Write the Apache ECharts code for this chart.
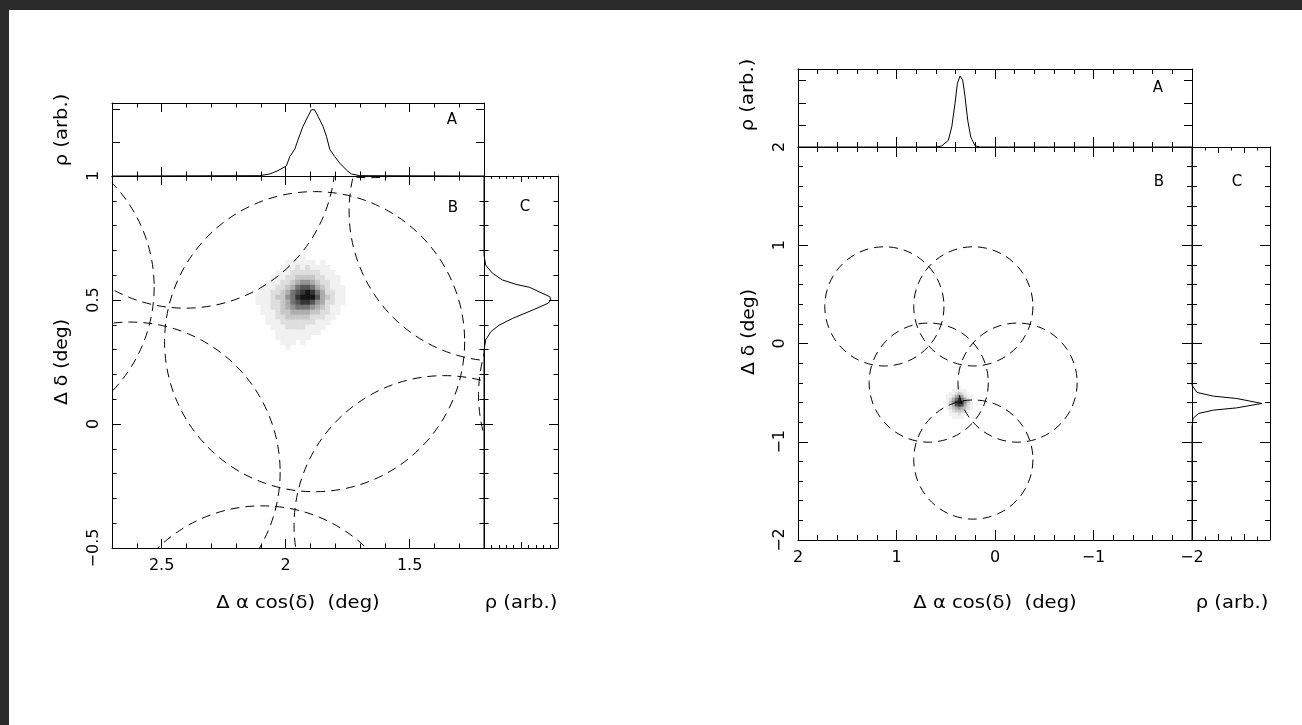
<!DOCTYPE html>
<html>
<head>
<meta charset="utf-8">
<script src="https://cdn.jsdelivr.net/npm/echarts@6/dist/echarts.min.js"></script>
<style>
  html, body { margin: 0; padding: 0; background: #fff; }
  #chart { width: 1302px; height: 725px; }
</style>
</head>
<body>
<div id="chart"></div>
<script>
// ---------- Left field (offsets in degrees) ----------
// Centres of the dashed field-of-view circles
const leftCircleX = [1.883, 2.405, 1.139, 1.361, 2.627, 2.095, 3.135, 1.661, 0.617];
const leftCircleY = [0.332, 1.072, 0.858, -0.410, -0.194, -0.935, 0.552, 1.598, 0.118];
const leftCircleRadius = 0.605;

// Labelled tick values on the RA axis
const leftRaTicks = [1.5, 2, 2.5];

// Marginal density along RA (panel A)
const leftTopX   = [2.70, 2.104, 2.064, 2.031, 1.997, 1.983, 1.963, 1.950, 1.930, 1.910, 1.896, 1.883, 1.869, 1.849, 1.835, 1.822, 1.802, 1.781, 1.755, 1.735, 1.701, 1.20];
const leftTopRho = [0, 0.01, 0.06, 0.16, 0.30, 0.58, 0.80, 1.08, 1.48, 1.78, 1.98, 1.98, 1.78, 1.48, 1.18, 0.80, 0.58, 0.38, 0.18, 0.06, 0.01, 0];

// Marginal density along Dec (panel C)
const leftSideDec = [1.0, 0.681, 0.641, 0.608, 0.581, 0.563, 0.551, 0.513, 0.500, 0.487, 0.460, 0.426, 0.399, 0.372, 0.339, 0.298, -0.5];
const leftSideRho = [0, 0, 0.023, 0.114, 0.247, 0.434, 0.616, 0.890, 0.904, 0.867, 0.662, 0.388, 0.205, 0.092, 0.023, 0, 0];

// 2-D density (0..9), rows from north to south, columns from east (high RA offset) to west
const leftDensityX0 = 2.15;
const leftDensityY0 = 0.67;
const leftDensityStep = 0.02;
const leftDensity = [
  [0,0,0,0,0,0,0,0,0,0,0,1,0,0,0,0,0,0,0,0,0,0],
  [0,0,0,0,0,0,0,0,1,1,1,1,1,1,0,1,0,0,0,0,0,0],
  [0,0,0,0,0,0,0,1,1,1,2,1,2,1,1,1,1,0,0,0,0,0],
  [0,0,0,0,0,0,1,1,1,2,2,2,2,2,2,1,1,1,0,0,0,0],
  [0,0,0,0,0,1,1,1,2,2,3,3,3,3,2,2,1,1,1,0,0,0],
  [0,0,0,0,1,1,1,2,2,3,4,5,5,4,3,2,2,1,1,0,0,0],
  [0,0,0,1,1,1,2,2,3,4,6,7,7,6,4,3,2,1,1,1,0,0],
  [0,0,0,1,1,2,2,3,4,6,7,8,9,8,6,4,2,2,1,1,0,0],
  [0,0,1,1,1,2,3,3,5,6,8,9,9,9,7,4,3,2,1,1,0,0],
  [0,0,1,1,1,2,2,3,4,6,7,8,8,7,5,4,2,2,1,1,0,0],
  [0,0,0,1,1,2,2,3,4,5,6,6,6,5,4,3,2,1,1,0,0,0],
  [0,0,0,1,1,1,2,3,3,4,4,4,4,3,3,2,2,1,1,0,0,0],
  [0,0,0,0,1,1,2,2,3,3,3,3,3,2,2,2,1,1,0,0,0,0],
  [0,0,0,0,1,1,1,2,2,2,2,2,2,2,1,1,1,0,0,0,0,0],
  [0,0,0,0,0,1,1,1,2,2,2,2,1,1,1,1,0,0,0,0,0,0],
  [0,0,0,0,0,0,1,1,1,1,1,1,1,1,1,0,0,0,0,0,0,0],
  [0,0,0,0,0,0,1,1,1,1,1,1,1,0,0,0,0,0,0,0,0,0],
  [0,0,0,0,0,0,0,1,1,1,0,1,0,0,0,0,0,0,0,0,0,0],
  [0,0,0,0,0,0,0,0,1,0,0,0,0,0,0,0,0,0,0,0,0,0]
];

// ---------- Right field ----------
const rightCircleX = [1.123, 0.220, 0.673, -0.229, 0.220];
const rightCircleY = [0.378, 0.378, -0.398, -0.398, -1.181];
const rightCircleRadius = 0.605;

const rightTopX   = [2, 0.60, 0.541, 0.474, 0.439, 0.406, 0.382, 0.355, 0.328, 0.304, 0.277, 0.246, 0.202, 0.15, -2];
const rightTopRho = [0, 0, 0.05, 0.30, 0.91, 1.97, 2.88, 3.21, 3.03, 2.27, 1.21, 0.45, 0.05, 0, 0];

const rightSideDec = [2, -0.424, -0.498, -0.536, -0.560, -0.610, -0.655, -0.678, -0.712, -0.763, -0.848, -2];
const rightSideRho = [0, 0, 0.067, 0.290, 0.604, 0.939, 0.604, 0.290, 0.088, 0.014, 0, 0];

const rightDensityX0 = 0.51;
const rightDensityY0 = -0.45;
const rightDensityStep = 0.03;
const rightDensity = [
  [0,0,0,0,0,1,0,0,0,0,0],
  [0,0,0,1,1,1,1,1,0,0,0],
  [0,0,1,1,2,3,2,1,1,0,0],
  [0,1,1,2,4,5,4,2,1,1,0],
  [0,1,2,4,6,8,6,4,2,1,0],
  [1,1,3,5,8,9,8,5,3,1,0],
  [0,1,2,4,7,8,7,4,2,1,0],
  [0,1,2,3,4,5,4,3,2,1,0],
  [0,0,1,2,3,3,3,2,1,0,0],
  [0,0,1,1,1,2,1,1,0,0,0],
  [0,0,0,1,1,1,1,0,0,0,0]
];

// ---------- helpers ----------
const FONT = '"DejaVu Sans", "Liberation Sans", sans-serif';
const INK = '#000';
const minusSign = v => String(v).replace('-', '\u2212');
const zip = (a, b) => a.map((v, i) => [v, b[i]]);

function shade(v) {
  const g = Math.round(255 - 235 * Math.pow(v / 9, 1.3));
  return 'rgb(' + g + ',' + g + ',' + g + ')';
}

function densityData(rows, x0, y0, step) {
  const out = [];
  rows.forEach((row, r) => row.forEach((v, c) => {
    if (v > 0) out.push([x0 - c * step, y0 - r * step, v]);
  }));
  return out;
}

function cellRenderer(step) {
  return function (params, api) {
    const c = api.coord([api.value(0), api.value(1)]);
    const s = api.size([step, step]);
    return {
      type: 'rect',
      shape: { x: c[0] - s[0] / 2 - 0.3, y: c[1] - s[1] / 2 - 0.3, width: s[0] + 0.6, height: s[1] + 0.6 },
      style: { fill: shade(api.value(2)) }
    };
  };
}

function ringRenderer(radius) {
  return function (params, api) {
    const c = api.coord([api.value(0), api.value(1)]);
    const r = api.size([radius * 2, 0])[0] / 2;
    return {
      type: 'circle',
      shape: { cx: c[0], cy: c[1], r: r },
      style: { fill: 'none', stroke: INK, lineWidth: 1, lineDash: [9, 6] }
    };
  };
}

const xAxes = [];
const yAxes = [];

function axis(list, grid, position, o) {
  const ax = {
    type: 'value', gridIndex: grid, position: position, offset: 0,
    min: o.min, max: o.max, inverse: !!o.inverse,
    axisLine: { show: o.line !== false, onZero: false, lineStyle: { color: INK, width: 1 } },
    axisTick: { show: true, inside: true, length: o.tickLen, lineStyle: { color: INK, width: 1 } },
    minorTick: { show: !!o.minor, splitNumber: o.minor || 5, length: o.minorLen || 4, lineStyle: { color: INK, width: 1 } },
    splitLine: { show: false },
    minorSplitLine: { show: false },
    axisLabel: { show: false },
    silent: true
  };
  if (o.interval !== undefined) ax.interval = o.interval;
  if (o.ticks) ax.axisTick.customValues = o.ticks;
  if (o.labels) {
    ax.axisLabel = {
      show: true, margin: 10, rotate: o.rotate || 0, color: INK,
      fontFamily: FONT, fontSize: 16,
      showMinLabel: true, showMaxLabel: true,
      formatter: minusSign
    };
    if (Array.isArray(o.labels)) ax.axisLabel.customValues = o.labels;
  }
  list.push(ax);
  return list.length - 1;
}

// ---------- grids ----------
const grids = [
  { left: 112, top: 103, width: 372, height: 73 },   // 0 left A
  { left: 112, top: 176, width: 372, height: 372 },  // 1 left B
  { left: 484, top: 176, width: 74,  height: 372 },  // 2 left C
  { left: 798, top: 69,  width: 394, height: 78 },   // 3 right A
  { left: 798, top: 147, width: 394, height: 393 },  // 4 right B
  { left: 1192, top: 147, width: 78, height: 393 }   // 5 right C
].map(g => Object.assign({ containLabel: false, outerBoundsMode: 'none' }, g));

// Left RA axes (panels A and B share them)
const leftRa = { min: 1.2, max: 2.7, inverse: true };
function leftRaPair(grid, pos, withLabels) {
  const minorIdx = axis(xAxes, grid, pos, Object.assign({ interval: 0.1, tickLen: 4.5 }, leftRa));
  axis(xAxes, grid, pos, Object.assign({ line: false, ticks: leftRaTicks, tickLen: 9, labels: withLabels ? leftRaTicks : null }, leftRa));
  return minorIdx;
}
const xLA = leftRaPair(0, 'bottom', false);
leftRaPair(0, 'top', false);
const xLB = leftRaPair(1, 'bottom', true);
leftRaPair(1, 'top', false);
const xLC = axis(xAxes, 2, 'bottom', { min: 0, max: 1, interval: 0.5, tickLen: 6, minor: 5, minorLen: 3 });
axis(xAxes, 2, 'top', { min: 0, max: 1, interval: 0.5, tickLen: 6, minor: 5, minorLen: 3 });

const leftDec = { min: -0.5, max: 1, interval: 0.5, tickLen: 9, minor: 5, minorLen: 4.5 };
const yLA = axis(yAxes, 0, 'left', { min: 0, max: 2.18, interval: 1, tickLen: 8 });
axis(yAxes, 0, 'right', { min: 0, max: 2.18, interval: 1, tickLen: 8 });
const yLB = axis(yAxes, 1, 'left', Object.assign({ labels: true, rotate: 90 }, leftDec));
axis(yAxes, 1, 'right', leftDec);
const yLC = axis(yAxes, 2, 'left', leftDec);
axis(yAxes, 2, 'right', leftDec);

// Right axes
const rightRa = { min: -2, max: 2, inverse: true, interval: 1, tickLen: 10, minor: 5, minorLen: 5 };
const xRA = axis(xAxes, 3, 'bottom', rightRa);
axis(xAxes, 3, 'top', rightRa);
const xRB = axis(xAxes, 4, 'bottom', Object.assign({ labels: true }, rightRa));
axis(xAxes, 4, 'top', rightRa);
const rightRho = { min: 0, max: 1.05, interval: 0.35, tickLen: 6, minor: 2, minorLen: 3.5 };
const xRC = axis(xAxes, 5, 'bottom', rightRho);
axis(xAxes, 5, 'top', rightRho);

const rightDec = { min: -2, max: 2, interval: 1, tickLen: 10, minor: 5, minorLen: 5 };
const yRA = axis(yAxes, 3, 'left', { min: 0, max: 3.53, interval: 1, tickLen: 8 });
axis(yAxes, 3, 'right', { min: 0, max: 3.53, interval: 1, tickLen: 8 });
const yRB = axis(yAxes, 4, 'left', Object.assign({ labels: true, rotate: 90 }, rightDec));
axis(yAxes, 4, 'right', rightDec);
const yRC = axis(yAxes, 5, 'left', rightDec);
axis(yAxes, 5, 'right', rightDec);

// ---------- series ----------
const profileLine = { color: INK, width: 1 };
const series = [
  { type: 'custom', name: 'left density', xAxisIndex: xLB, yAxisIndex: yLB, clip: true, z: 1,
    renderItem: cellRenderer(leftDensityStep),
    data: densityData(leftDensity, leftDensityX0, leftDensityY0, leftDensityStep) },
  { type: 'custom', name: 'left fields', xAxisIndex: xLB, yAxisIndex: yLB, clip: true, z: 3,
    renderItem: ringRenderer(leftCircleRadius), data: zip(leftCircleX, leftCircleY) },
  { type: 'line', name: 'left RA profile', xAxisIndex: xLA, yAxisIndex: yLA, symbol: 'none',
    lineStyle: profileLine, clip: true, data: zip(leftTopX, leftTopRho) },
  { type: 'line', name: 'left Dec profile', xAxisIndex: xLC, yAxisIndex: yLC, symbol: 'none',
    lineStyle: profileLine, clip: true, data: zip(leftSideRho, leftSideDec) },

  { type: 'custom', name: 'right density', xAxisIndex: xRB, yAxisIndex: yRB, clip: true, z: 1,
    renderItem: cellRenderer(rightDensityStep),
    data: densityData(rightDensity, rightDensityX0, rightDensityY0, rightDensityStep) },
  { type: 'custom', name: 'right fields', xAxisIndex: xRB, yAxisIndex: yRB, clip: true, z: 3,
    renderItem: ringRenderer(rightCircleRadius), data: zip(rightCircleX, rightCircleY) },
  { type: 'line', name: 'right RA profile', xAxisIndex: xRA, yAxisIndex: yRA, symbol: 'none',
    lineStyle: profileLine, clip: true, data: zip(rightTopX, rightTopRho) },
  { type: 'line', name: 'right Dec profile', xAxisIndex: xRC, yAxisIndex: yRC, symbol: 'none',
    lineStyle: profileLine, clip: true, data: zip(rightSideRho, rightSideDec) }
];

// ---------- titles and frame ----------
function text(str, x, y, size, opts) {
  opts = opts || {};
  return {
    type: 'text', x: x, y: y, z: 20, silent: true,
    rotation: opts.vertical ? Math.PI / 2 : 0,
    scaleX: opts.stretch || 1,
    style: { text: str, fill: INK, font: size + 'px ' + FONT, align: 'center', verticalAlign: 'middle' }
  };
}

const graphic = [
  { type: 'rect', z: 0, silent: true, shape: { x: 0, y: 0, width: 1302, height: 10 }, style: { fill: '#2b2b2b' } },
  { type: 'rect', z: 0, silent: true, shape: { x: 0, y: 0, width: 9, height: 725 }, style: { fill: '#2b2b2b' } },

  text('\u03c1 (arb.)', 63, 130, 17, { vertical: true, stretch: 1.15 }),
  text('\u0394 \u03b4 (deg)', 63, 362, 17, { vertical: true, stretch: 1.1 }),
  text('\u0394 \u03b1 cos(\u03b4)  (deg)', 298, 604, 17, { stretch: 1.15 }),
  text('\u03c1 (arb.)', 521, 604, 17, { stretch: 1.15 }),
  text('A', 452, 120, 15),
  text('B', 453, 208, 15),
  text('C', 525, 207, 15),

  text('\u03c1 (arb.)', 749, 95, 17, { vertical: true, stretch: 1.15 }),
  text('\u0394 \u03b4 (deg)', 750, 332, 17, { vertical: true, stretch: 1.1 }),
  text('\u0394 \u03b1 cos(\u03b4)  (deg)', 995, 604, 17, { stretch: 1.15 }),
  text('\u03c1 (arb.)', 1232, 604, 17, { stretch: 1.15 }),
  text('A', 1158, 88, 15),
  text('B', 1159, 182, 15),
  text('C', 1237, 182, 15)
];

const chart = echarts.init(document.getElementById('chart'), null, { renderer: 'canvas' });
chart.setOption({
  backgroundColor: '#fff',
  animation: false,
  grid: grids,
  xAxis: xAxes,
  yAxis: yAxes,
  series: series,
  graphic: graphic
});
</script>
</body>
</html>
